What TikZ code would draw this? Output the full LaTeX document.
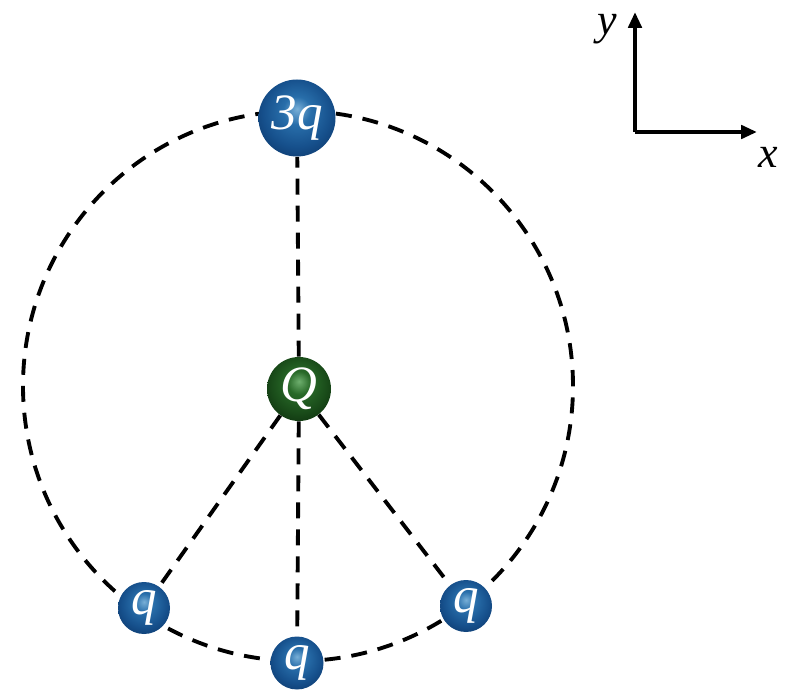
\documentclass[tikz,border=0pt]{standalone}
\usepackage{fontspec}
\setmainfont{Liberation Serif}
\usetikzlibrary{arrows.meta}
\definecolor{bhi}{RGB}{120,175,215}
\definecolor{bmid}{RGB}{40,110,170}
\definecolor{bbody}{RGB}{22,80,140}
\definecolor{bedge}{RGB}{10,50,100}
\definecolor{ghi}{RGB}{110,175,110}
\definecolor{gmid}{RGB}{40,105,40}
\definecolor{gbody}{RGB}{25,75,25}
\definecolor{gedge}{RGB}{10,40,10}
\pgfdeclareradialshading{blueball}{\pgfpoint{0bp}{6bp}}{color(0bp)=(bhi); color(9bp)=(bmid); color(22bp)=(bbody); color(35bp)=(bedge); color(50bp)=(bedge)}
\pgfdeclareradialshading{greenball}{\pgfpoint{0bp}{6bp}}{color(0bp)=(ghi); color(9bp)=(gmid); color(22bp)=(gbody); color(35bp)=(gedge); color(50bp)=(gedge)}
\begin{document}
\begin{tikzpicture}[x=0.02cm, y=0.02cm, >={Triangle[length=9pt,width=7.5pt]},
  dashline/.style={line width=2.2pt, dash pattern=on 0.32cm off 0.22cm},
  charge/.style={circle, inner sep=0pt, shading=blueball,
    text=white, font=\fontsize{29}{32}\selectfont\itshape},
  axislabel/.style={inner sep=0pt, font=\fontsize{25}{28}\selectfont\itshape},
  axis/.style={line width=2.8pt, ->}]
  \useasboundingbox (0,0) rectangle (788,697);
  \coordinate (O) at (298,311);

  % dashed ring and spokes
  \draw[dashline] (O) circle (275);
  \node[charge, minimum size=77*0.02cm] (top) at (297,579) {3q};
  \node[charge, minimum size=64*0.02cm, shading=greenball] (Q) at (299,308) {Q};
  \node[charge, minimum size=52*0.02cm] (left) at (144,89) {q};
  \node[charge, minimum size=53*0.02cm] (bottom) at (297,34) {q};
  \node[charge, minimum size=52*0.02cm] (right) at (466,91) {q};
  \draw[dashline] (Q) -- (top);
  \draw[dashline] (Q) -- (left);
  \draw[dashline] (Q) -- (bottom);
  \draw[dashline] (Q) -- (right);

  % axes
  \coordinate (A) at (635,565);
  \coordinate (xend) at (757,565);
  \coordinate (yend) at (635,685);
  \draw[axis] (A) -- (xend);
  \draw[axis] (A) -- (yend);
  \node[axislabel] (xl) at (768,540) {x};
  \node[axislabel] (yl) at (607,668) {y};
\end{tikzpicture}
\end{document}
